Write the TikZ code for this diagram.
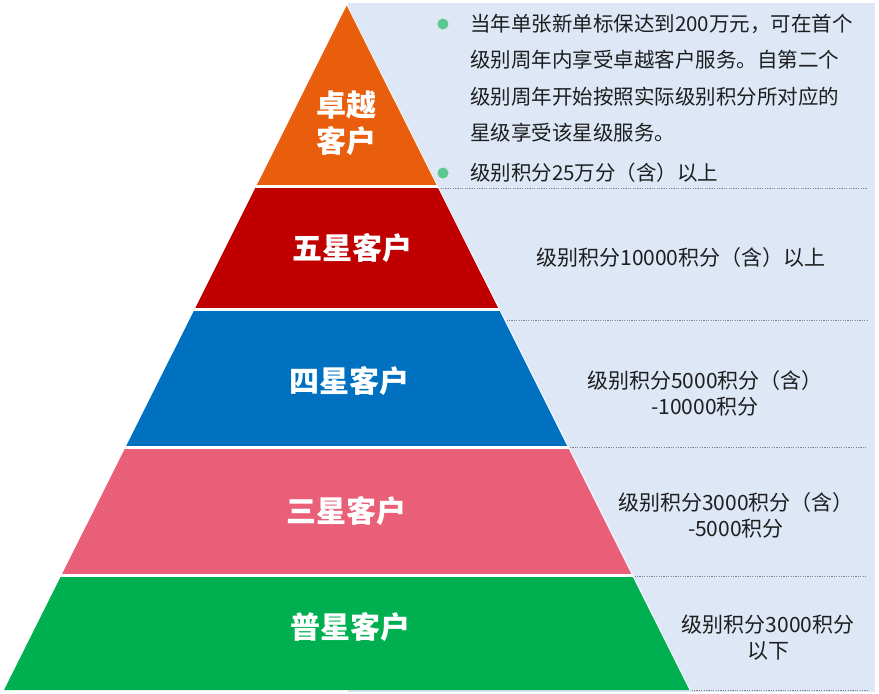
\documentclass[tikz,border=0pt]{standalone}
\usepackage{fontspec}
\setmainfont{Noto Sans CJK SC}
\usepackage{xcolor}
\usetikzlibrary{positioning,calc}

\definecolor{topo}{HTML}{E85E0C}
\definecolor{fivered}{HTML}{C00000}
\definecolor{fourblue}{HTML}{0070C0}
\definecolor{threepink}{HTML}{EA5F78}
\definecolor{basegreen}{HTML}{00B050}
\definecolor{panelblue}{HTML}{DDE7F6}
\definecolor{dotgreen}{HTML}{5CC890}
\definecolor{txtgray}{HTML}{1E1E1E}
\definecolor{sepgray}{HTML}{7C8696}

\begin{document}
\begin{tikzpicture}[x=1pt, y=-1pt]
    \tikzset{
        tier/.style={font=\fontsize{30}{36}\selectfont\bfseries, text=white, align=center, inner sep=0pt},
        note/.style={font=\fontsize{21}{26}\selectfont, text=txtgray, align=center, inner sep=0pt},
        topnote/.style={font=\fontsize{20.5}{36.4}\selectfont, text=txtgray, align=left, inner sep=0pt, anchor=north west},
        bullet/.style={circle, fill=dotgreen, minimum size=11pt, inner sep=0pt},
        sepline/.style={draw=sepgray, line width=0.9pt, dash pattern=on 1.2pt off 1.2pt},
        gap/.style={draw=white, line width=3pt}
    }
    \useasboundingbox (0,0) rectangle (879,694);
    \fill[panelblue] (348,3) rectangle (875,692);

    % pyramid layers
    \coordinate (apex) at (347,5);
    \coordinate (baseR) at (690,690);
    \coordinate (baseL) at (4,690);
    \begin{scope}
        \clip (apex) -- (baseR) -- (baseL) -- cycle;
        \fill[topo] (0,0) rectangle (879,188);
        \fill[fivered] (0,188) rectangle (879,310);
        \fill[fourblue] (0,310) rectangle (879,448);
        \fill[threepink] (0,448) rectangle (879,576);
        \fill[basegreen] (0,576) rectangle (879,694);
        \foreach \y in {186.5,309.5,447.5,575.5}
            \draw[gap] (0,\y) -- (879,\y);
    \end{scope}
    \draw[white, line width=0.8pt] (apex) -- (baseR);

    % dotted separators
    \foreach \y in {188,320,447,576,690}
        \draw[sepline] ({347+(\y-5)/2+2},\y) -- (867,\y);

    % tier labels
    \node[tier] (elite) at (346,123) {卓越\\客户};
    \node[tier] (five) at (352,248) {五星客户};
    \node[tier] (four) at (349,381) {四星客户};
    \node[tier] (three) at (346,511) {三星客户};
    \node[tier] (common) at (350,627) {普星客户};

    % notes
    \node[bullet] (dotA) at (443,24) {};
    \node[topnote] (eliteA) at (470,14) {当年单张新单标保达到200万元，可在首个\\级别周年内享受卓越客户服务。自第二个\\级别周年开始按照实际级别积分所对应的\\星级享受该星级服务。};
    \node[bullet] (dotB) at (443,173) {};
    \node[topnote] (eliteB) at (470,163) {级别积分25万分（含）以上};
    \node[note] (fiveN) at (681,258) {级别积分10000积分（含）以上};
    \node[note] (fourN) at (705,393) {级别积分5000积分（含）\\-10000积分};
    \node[note] (threeN) at (736,515) {级别积分3000积分（含）\\-5000积分};
    \node[note] (commonN) at (768,638) {级别积分3000积分\\以下};
\end{tikzpicture}
\end{document}
